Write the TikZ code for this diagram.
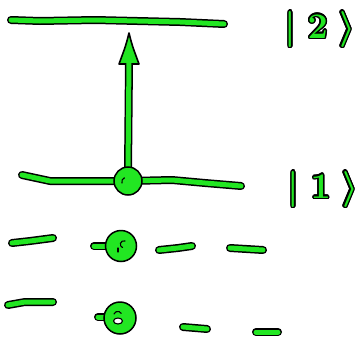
\RequirePackage{fix-cm}
\documentclass[tikz,border=0pt]{standalone}
\usepackage{contour}
\contourlength{1.5pt}
\contournumber{16}
\definecolor{lg}{RGB}{34,230,34}
\newcommand{\ketout}[1]{\contour{black}{#1}}
\begin{document}
\begin{tikzpicture}[x=1pt,y=-1pt,
  ol/.style={draw=black, line width=1.5pt, double=lg, double distance=5pt, line cap=round, line join=round},
  dotn/.style={circle, fill=lg, draw=black, line width=1.5pt, minimum size=#1, inner sep=0pt},
  scrib/.style={draw=black, line width=1.1pt, line cap=round},
  ket/.style={text=lg, font=\fontsize{36}{36}\selectfont\boldmath, inner sep=0pt}]
\useasboundingbox (0,0) rectangle (364,343);
% upper level
\draw[ol] (11,20) -- (40,21) -- (95,20) -- (180,22) -- (224,24);
% lower level
\draw[ol] (22,175) -- (50,181) -- (128,181) -- (172,180) -- (205,183) -- (241,186);
% arrow shaft (black outline)
\coordinate (tip) at (129,33);
\coordinate (abase) at (129,62);
\draw[black, line width=8pt] (128,172) -- (abase);
\filldraw[fill=lg, draw=black, line width=1.6pt, line join=round]
  (tip) .. controls (126,45) .. (119,64) -- (139,64) .. controls (132,45) .. cycle;
\draw[lg, line width=5pt] (128,172) -- (129,58);
% dot on lower level
\node[dotn=28pt] (d1) at (128,181) {};
\draw[scrib] (122,183) arc[start angle=200, end angle=110, radius=4pt];
% labels
\node[ket] (k2) at (320,30) {\ketout{$|\mkern5mu 2\mkern5mu\rangle$}};
\node[ket] (k1) at (323,190) {\ketout{$|\mkern5mu 1\mkern5mu\rangle$}};
% third row
\draw[ol] (12,243) -- (30,241) -- (53,238);
\draw[ol] (94,246) -- (108,246);
\node[dotn=31pt] (d2) at (121,246) {};
\draw[scrib] (125,241) arc[start angle=70, end angle=250, radius=3.5pt];
\draw[scrib] (118,248) -- (118,252);
\draw[ol] (159,250) -- (178,248) -- (192,246);
\draw[ol] (230,248) -- (263,250);
% fourth row
\draw[ol] (8,305) -- (25,302) -- (53,302);
\draw[ol] (98,317) -- (108,317);
\node[dotn=32pt] (d3) at (120,318) {};
\filldraw[fill=white, draw=black, line width=1.1pt] (118,321) ellipse[x radius=4.5pt, y radius=3pt];
\draw[scrib] (114,314) arc[start angle=160, end angle=30, radius=4pt];
\draw[ol] (183,327) -- (207,329);
\draw[ol] (256,332) -- (278,332);
\end{tikzpicture}
\end{document}
